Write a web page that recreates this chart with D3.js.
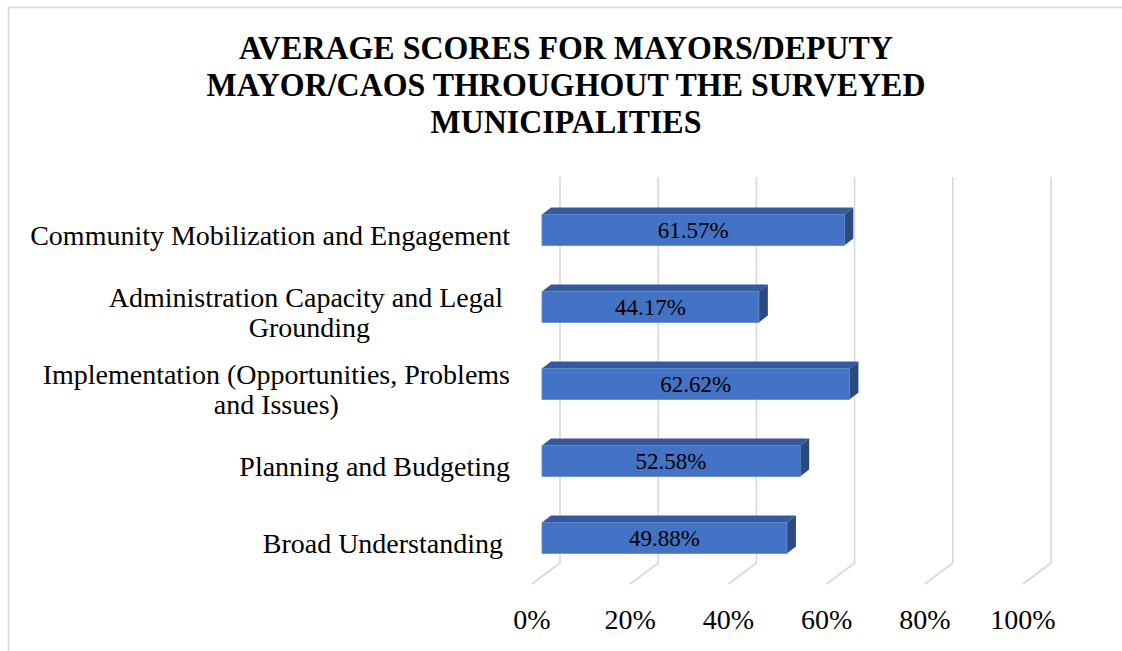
<!DOCTYPE html>
<html>
<head>
<meta charset="utf-8">
<script src="https://cdn.jsdelivr.net/npm/d3@7"></script>
<style>
  html, body { margin: 0; padding: 0; background: #fff; }
  svg { display: block; }
  text { font-family: "Liberation Serif", "Times New Roman", "Nimbus Roman", serif; fill: #000; }
</style>
</head>
<body>
<div id="chart"></div>
<script>
// Chart data
const titleLines = [
  "AVERAGE SCORES FOR MAYORS/DEPUTY",
  "MAYOR/CAOS THROUGHOUT THE SURVEYED",
  "MUNICIPALITIES"
];
const categories = [
  "Community Mobilization and Engagement",
  "Administration Capacity and Legal Grounding",
  "Implementation (Opportunities, Problems and Issues)",
  "Planning and Budgeting",
  "Broad Understanding"
];
// wrapped lines of each category label, as shown on the axis
const categoryLines = [
  ["Community Mobilization and Engagement"],
  ["Administration Capacity and Legal ", "Grounding"],
  ["Implementation (Opportunities, Problems", "and Issues)"],
  ["Planning and Budgeting"],
  ["Broad Understanding "]
];
const values = [61.57, 44.17, 62.62, 52.58, 49.88];
const ticks = [0, 20, 40, 60, 80, 100];

const W = 1122, H = 651;
const svg = d3.select("#chart").append("svg")
  .attr("width", W).attr("height", H);

// outer chart frame
svg.append("rect")
  .attr("x", 8.5).attr("y", 7.5)
  .attr("width", W + 20).attr("height", H + 20)
  .attr("fill", "#fff").attr("stroke", "#d9d9d9").attr("stroke-width", 1.6);

// title: bold serif, set slightly condensed
const titleCx = 566, titleWidth = 719;
const titleG = svg.append("g");
const titleText = titleG.selectAll("text").data(titleLines).join("text")
  .attr("x", 0)
  .attr("y", (d, i) => 59 + i * 37)
  .attr("text-anchor", "middle")
  .attr("font-family", "'Liberation Serif', 'Times New Roman', serif")
  .attr("font-size", 33)
  .attr("font-weight", 700)
  .text(d => d);
let widest = 0;
titleText.each(function () { widest = Math.max(widest, this.getComputedTextLength()); });
titleG.attr("transform", `translate(${titleCx},0) scale(${Math.min(1, titleWidth / widest)},1)`);

// scales: x for the front face of the bars, y bands for categories
const x = d3.scaleLinear().domain([0, 100]).range([542, 1033]);
const y = d3.scaleBand().domain(categories)
  .range([191.5, 576.5]).paddingInner(0.6).paddingOuter(0.3);

// 3D projection offsets
const wall = { dx: 18, top: 177, bottom: 563 };   // back wall
const floor = { dx: -28, dy: 21 };                 // floor depth
const bar = { dx: 9, dy: -7 };                     // bar depth

// gridlines on the back wall plus their floor lines
const grid = svg.append("g").attr("stroke", "#d9d9d9").attr("stroke-width", 1.6).attr("fill", "none");
grid.selectAll("path").data(ticks).join("path")
  .attr("d", t => {
    const bx = x(t) + wall.dx;
    return `M${bx},${wall.top}V${wall.bottom}L${bx + floor.dx},${wall.bottom + floor.dy}`;
  });

// bars
const bars = svg.append("g").selectAll("g").data(categories).join("g");
bars.each(function (c, i) {
  const g = d3.select(this);
  const x0 = x(0), x1 = x(values[i]);
  const y0 = y(c), y1 = y(c) + y.bandwidth();
  // top face
  g.append("path")
    .attr("d", `M${x0},${y0}L${x0 + bar.dx},${y0 + bar.dy}L${x1 + bar.dx},${y0 + bar.dy}L${x1},${y0}Z`)
    .attr("fill", "#36599c");
  // side face
  g.append("path")
    .attr("d", `M${x1},${y0}L${x1 + bar.dx},${y0 + bar.dy}L${x1 + bar.dx},${y1 + bar.dy}L${x1},${y1}Z`)
    .attr("fill", "#2c4a80");
  // front face
  g.append("rect")
    .attr("x", x0).attr("y", y0)
    .attr("width", x1 - x0).attr("height", y.bandwidth())
    .attr("fill", "#4472c4")
    .attr("stroke", "#5b85cf").attr("stroke-width", 0.8);
  // value label
  g.append("text")
    .attr("x", (x0 + x1) / 2)
    .attr("y", y0 + y.bandwidth() / 2)
    .attr("dy", "0.35em")
    .attr("text-anchor", "middle")
    .attr("font-size", 23)
    .text(values[i].toFixed(2) + "%");
});

// category labels: each block right-aligned, its lines centred within the block
const labelRight = 510, lineH = 30.5;
const labels = svg.append("g");
categories.forEach((c, i) => {
  const lines = categoryLines[i];
  const g = labels.append("g");
  const ts = g.selectAll("text").data(lines).join("text")
    .attr("font-size", 28)
    .style("white-space", "pre")
    .attr("text-anchor", "middle")
    .attr("dy", "0.35em")
    .text(d => d);
  let maxW = 0;
  ts.each(function () { maxW = Math.max(maxW, this.getComputedTextLength()); });
  const cy = y(c) + y.bandwidth() / 2 + 5;
  ts.attr("x", labelRight - maxW / 2)
    .attr("y", (d, j) => cy + (j - (lines.length - 1) / 2) * lineH);
});

// x axis tick labels on the floor front edge
svg.append("g").selectAll("text").data(ticks).join("text")
  .attr("x", t => x(t) + wall.dx + floor.dx)
  .attr("y", 619)
  .attr("dy", "0.35em")
  .attr("text-anchor", "middle")
  .attr("font-size", 28)
  .text(t => t + "%");
</script>
</body>
</html>
